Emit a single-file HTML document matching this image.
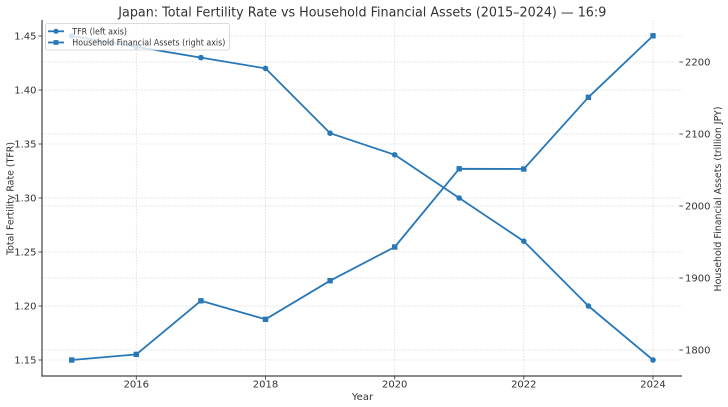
<!DOCTYPE html>
<html><head><meta charset="utf-8"><style>
html,body{margin:0;padding:0;background:#fff;}
svg{display:block;}
text{font-family:"DejaVu Sans","Liberation Sans",sans-serif;fill:#333;}
</style></head><body>
<svg width="728" height="407" viewBox="0 0 728 407" xmlns="http://www.w3.org/2000/svg">
<rect width="728" height="407" fill="#fff"/>
<!-- grid -->
<g stroke="#d9d9d9" stroke-width="0.8" stroke-dasharray="1.5,1.5" fill="none">
<line x1="136.3" y1="20" x2="136.3" y2="376"/>
<line x1="265.5" y1="20" x2="265.5" y2="376"/>
<line x1="394.7" y1="20" x2="394.7" y2="376"/>
<line x1="523.8" y1="20" x2="523.8" y2="376"/>
<line x1="653" y1="20" x2="653" y2="376"/>
<line x1="42" y1="36" x2="682" y2="36"/>
<line x1="42" y1="90" x2="682" y2="90"/>
<line x1="42" y1="144" x2="682" y2="144"/>
<line x1="42" y1="198" x2="682" y2="198"/>
<line x1="42" y1="252" x2="682" y2="252"/>
<line x1="42" y1="306" x2="682" y2="306"/>
<line x1="42" y1="360" x2="682" y2="360"/>
<line x1="42" y1="62" x2="682" y2="62"/>
<line x1="42" y1="134" x2="682" y2="134"/>
<line x1="42" y1="206" x2="682" y2="206"/>
<line x1="42" y1="278" x2="682" y2="278"/>
<line x1="42" y1="350" x2="682" y2="350"/>
</g>
<!-- spines -->
<g stroke="#444" stroke-width="1.2">
<line x1="42" y1="20" x2="42" y2="376.6"/>
<line x1="41.4" y1="376" x2="682" y2="376"/>
</g>
<!-- ticks -->
<g stroke="#444" stroke-width="0.9">
<line x1="38.5" y1="36" x2="42" y2="36"/>
<line x1="38.5" y1="90" x2="42" y2="90"/>
<line x1="38.5" y1="144" x2="42" y2="144"/>
<line x1="38.5" y1="198" x2="42" y2="198"/>
<line x1="38.5" y1="252" x2="42" y2="252"/>
<line x1="38.5" y1="306" x2="42" y2="306"/>
<line x1="38.5" y1="360" x2="42" y2="360"/>
<line x1="136.3" y1="376" x2="136.3" y2="379.5"/>
<line x1="265.5" y1="376" x2="265.5" y2="379.5"/>
<line x1="394.7" y1="376" x2="394.7" y2="379.5"/>
<line x1="523.8" y1="376" x2="523.8" y2="379.5"/>
<line x1="653" y1="376" x2="653" y2="379.5"/>
<line x1="679.5" y1="62" x2="683" y2="62"/>
<line x1="679.5" y1="134" x2="683" y2="134"/>
<line x1="679.5" y1="206" x2="683" y2="206"/>
<line x1="679.5" y1="278" x2="683" y2="278"/>
<line x1="679.5" y1="350" x2="683" y2="350"/>
</g>
<!-- tick labels -->
<g font-size="10" text-anchor="end">
<text x="36.5" y="39.7">1.45</text>
<text x="36.5" y="93.7">1.40</text>
<text x="36.5" y="147.7">1.35</text>
<text x="36.5" y="201.7">1.30</text>
<text x="36.5" y="255.7">1.25</text>
<text x="36.5" y="309.7">1.20</text>
<text x="36.5" y="363.7">1.15</text>
</g>
<g font-size="10" text-anchor="start">
<text x="685" y="65.7">2200</text>
<text x="685" y="137.7">2100</text>
<text x="685" y="209.7">2000</text>
<text x="685" y="281.7">1900</text>
<text x="685" y="353.7">1800</text>
</g>
<g font-size="10" text-anchor="middle">
<text x="136.3" y="387.3">2016</text>
<text x="265.5" y="387.3">2018</text>
<text x="394.7" y="387.3">2020</text>
<text x="523.8" y="387.3">2022</text>
<text x="653" y="387.3">2024</text>
</g>
<!-- axis labels -->
<text x="362.5" y="400" font-size="10" text-anchor="middle">Year</text>
<text transform="translate(13.3,198.5) rotate(-90)" font-size="10" text-anchor="middle" textLength="113" lengthAdjust="spacingAndGlyphs">Total Fertility Rate (TFR)</text>
<text transform="translate(721,199) rotate(-90)" font-size="10" text-anchor="middle" textLength="185" lengthAdjust="spacingAndGlyphs">Household Financial Assets (trillion JPY)</text>
<!-- title -->
<text x="118.3" y="16.3" font-size="13.7" textLength="488" lengthAdjust="spacingAndGlyphs">Japan: Total Fertility Rate vs Household Financial Assets (2015–2024) — 16:9</text>
<!-- series -->
<g fill="none" stroke="#2878b8" stroke-width="1.8" stroke-linejoin="round">
<polyline points="71.7,36 136.3,46.8 200.9,57.6 265.5,68.4 330.1,133.2 394.7,154.8 459.2,198 523.8,241.2 588.4,306 653,360"/>
<polyline points="71.7,360 136.3,354.4 200.9,300.8 265.5,319.3 330.1,280.7 394.7,247 459.2,168.8 523.8,169 588.4,97.3 653,35.8"/>
</g>
<g fill="#2878b8">
<circle cx="71.7" cy="36" r="2.8"/><circle cx="136.3" cy="46.8" r="2.8"/><circle cx="200.9" cy="57.6" r="2.8"/><circle cx="265.5" cy="68.4" r="2.8"/><circle cx="330.1" cy="133.2" r="2.8"/><circle cx="394.7" cy="154.8" r="2.8"/><circle cx="459.2" cy="198" r="2.8"/><circle cx="523.8" cy="241.2" r="2.8"/><circle cx="588.4" cy="306" r="2.8"/><circle cx="653" cy="360" r="2.8"/>
<rect x="69" y="357.3" width="5.4" height="5.4"/><rect x="133.6" y="351.7" width="5.4" height="5.4"/><rect x="198.2" y="298.1" width="5.4" height="5.4"/><rect x="262.8" y="316.6" width="5.4" height="5.4"/><rect x="327.4" y="278" width="5.4" height="5.4"/><rect x="392" y="244.3" width="5.4" height="5.4"/><rect x="456.5" y="166.1" width="5.4" height="5.4"/><rect x="521.1" y="166.3" width="5.4" height="5.4"/><rect x="585.7" y="94.6" width="5.4" height="5.4"/><rect x="650.3" y="33.1" width="5.4" height="5.4"/>
</g>
<!-- legend -->
<rect x="45.5" y="23.5" width="184" height="26.5" rx="2" ry="2" fill="#fff" fill-opacity="0.8" stroke="#d0d0d0" stroke-width="0.8"/>
<g stroke="#2878b8" stroke-width="1.8">
<line x1="48" y1="31.3" x2="64" y2="31.3"/>
<line x1="48" y1="42.5" x2="64" y2="42.5"/>
</g>
<g fill="#2878b8">
<circle cx="56" cy="31.3" r="2.5"/>
<rect x="53.6" y="40.1" width="4.8" height="4.8"/>
</g>
<text x="72.3" y="34.4" font-size="8.6" textLength="54.7" lengthAdjust="spacingAndGlyphs">TFR (left axis)</text>
<text x="72.3" y="45.6" font-size="8.6" textLength="153" lengthAdjust="spacingAndGlyphs">Household Financial Assets (right axis)</text>
</svg>
</body></html>
